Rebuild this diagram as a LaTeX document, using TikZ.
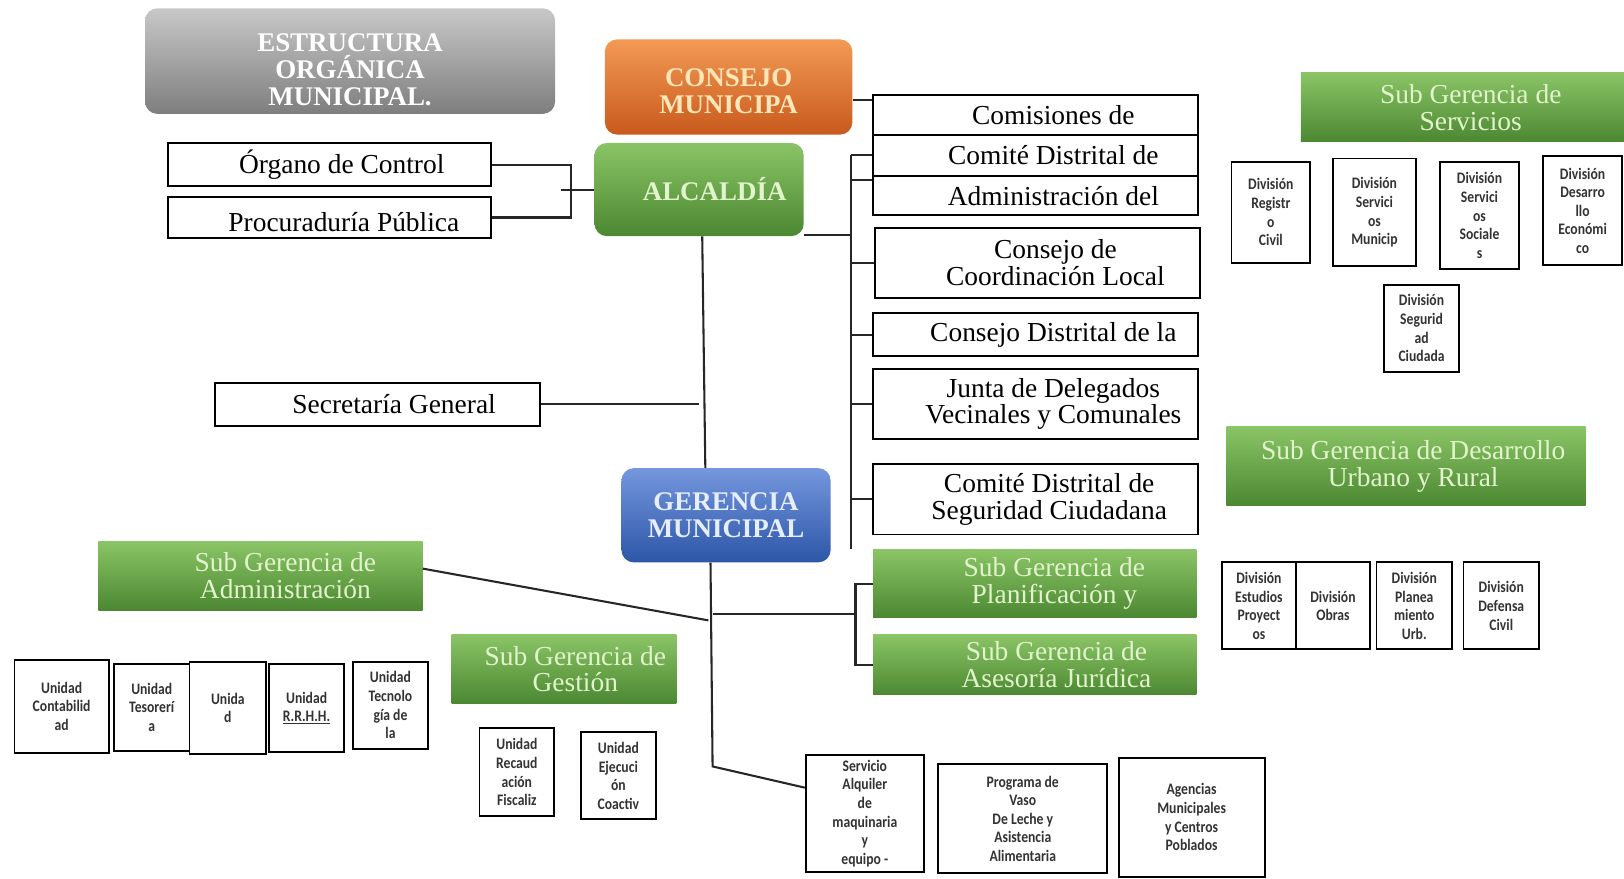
\documentclass[tikz,border=0pt]{standalone}
\usepackage{fontspec}
\setmainfont{Liberation Serif}
\newfontfamily\narrowfont[FakeStretch=0.85]{Carlito}
\usepackage{tikz}

\definecolor{grisA}{HTML}{C8C8C8}
\definecolor{grisB}{HTML}{7E7E7E}
\definecolor{naranjaA}{HTML}{F39A55}
\definecolor{naranjaB}{HTML}{C85A1C}
\definecolor{naranjaT}{HTML}{FFE6B8}
\definecolor{verdeA}{HTML}{8AC466}
\definecolor{verdeB}{HTML}{4C8832}
\definecolor{verdeT}{HTML}{E2F4CC}
\definecolor{azulA}{HTML}{7497DD}
\definecolor{azulB}{HTML}{2D56A8}
\definecolor{azulT}{HTML}{E6EEFF}

\newcommand\sh[1]{\hspace*{#1pt}}

\begin{document}
\begin{tikzpicture}[x=1pt,y=-1pt,
  conn/.style={draw=black!85,line width=2pt},
  wbox/.style={draw,line width=1.8pt,fill=white,align=center,inner sep=1pt,
    font=\fontsize{26.5}{26}\selectfont},
  ubox/.style={draw,line width=1.8pt,fill=white,align=center,inner sep=1pt,text=black!80,
    font=\narrowfont\bfseries\fontsize{15.5}{18}\selectfont},
  gbox/.style={top color=verdeA,bottom color=verdeB,text=verdeT,align=center,inner sep=1pt,
    font=\fontsize{26.5}{26}\selectfont},
  rbox/.style={rounded corners=12pt,align=center,inner sep=1pt,
    font=\bfseries\fontsize{26}{26}\selectfont}]
\useasboundingbox (0,0) rectangle (1568,848);

\node[rbox,top color=grisA,bottom color=grisB,text=white,minimum width=396,minimum height=102]
  (titulo) at (338,59) {\rule{0pt}{34pt}ESTRUCTURA\\ORGÁNICA\\MUNICIPAL.};
\node[rbox,top color=naranjaA,bottom color=naranjaB,text=naranjaT,minimum width=239,minimum height=92]
  (consejo) at (703.5,84) {\rule{0pt}{26pt}CONSEJO\\MUNICIPA};
\node[rbox,top color=verdeA,bottom color=verdeB,text=verdeT,minimum width=202,minimum height=90]
  (alcaldia) at (675,183) {\sh{30}ALCALDÍA};
\node[rbox,top color=azulA,bottom color=azulB,text=azulT,minimum width=202,minimum height=91]
  (gerencia) at (701,497.5) {GERENCIA\\MUNICIPAL};

\node[wbox,minimum width=312,minimum height=42] (organo) at (318,159) {\sh{24}Órgano de Control};
\node[wbox,minimum width=312,minimum height=40] (procu) at (318,210) {\rule{0pt}{28pt}\sh{28}Procuraduría Pública};
\node[wbox,minimum width=313,minimum height=41] (secre) at (364.5,390.5) {\sh{32}Secretaría General};

\node[wbox,minimum width=314,minimum height=38] (comis) at (1000,111) {\sh{34}Comisiones de};
\node[wbox,minimum width=314,minimum height=40] (comite) at (1000,150) {\sh{34}Comité Distrital de};
\node[wbox,minimum width=314,minimum height=38] (admin) at (1000,189) {\sh{34}Administración del};
\node[wbox,minimum width=314,minimum height=68] (coord) at (1002,254) {\sh{34}Consejo de\\\sh{34}Coordinación Local};
\node[wbox,minimum width=314,minimum height=42] (cdistr) at (1000,323) {\sh{34}Consejo Distrital de la};
\node[wbox,minimum width=314,minimum height=68] (junta) at (1000,390) {\sh{34}Junta de Delegados\\\sh{34}Vecinales y Comunales};
\node[wbox,minimum width=314,minimum height=68] (segur) at (1000,482) {\sh{26}Comité Distrital de\\\sh{26}Seguridad Ciudadana};

\node[gbox,minimum width=312,minimum height=65] (planif) at (999,563.5) {\sh{38}Sub Gerencia de\\\sh{38}Planificación y};
\node[gbox,minimum width=312,minimum height=58] (asesor) at (999,642) {\sh{42}Sub Gerencia de\\\sh{42}Asesoría Jurídica};
\node[gbox,minimum width=313,minimum height=66] (subadm) at (251.5,556) {\sh{48}Sub Gerencia de\\\sh{48}Administración};
\node[gbox,minimum width=217,minimum height=66] (subgest) at (544.5,646) {\sh{22}Sub Gerencia de\\\sh{22}Gestión};
\node[gbox,minimum width=312,minimum height=67] (subserv) at (1412,103.5) {\sh{16}Sub Gerencia de\\\sh{16}Servicios};
\node[gbox,minimum width=347,minimum height=76] (subdes) at (1357.5,450) {\sh{14}Sub Gerencia de Desarrollo\\\sh{14}Urbano y Rural};

\node[ubox,minimum width=91,minimum height=90] (contab) at (59.5,682) {Unidad\\Contabilid\\ad};
\node[ubox,minimum width=73,minimum height=84] (tesor) at (146.5,683) {Unidad\\Tesorerí\\a};
\node[ubox,minimum width=74,minimum height=89] (unida) at (220,683.5) {Unida\\d};
\node[ubox,minimum width=72,minimum height=85] (rrhh) at (296,683.5) {Unidad\\\underline{R.R.H.H.}};
\node[ubox,minimum width=72,minimum height=84] (tecno) at (377,681) {Unidad\\Tecnolo\\gía de\\la};
\node[ubox,minimum width=72,minimum height=85] (recaud) at (499,745.5) {Unidad\\Recaud\\ación\\Fiscaliz};
\node[ubox,minimum width=72,minimum height=84] (coact) at (597,749) {Unidad\\Ejecuci\\ón\\Coactiv};

\node[ubox,minimum width=114,minimum height=113] (servicio) at (835,785.5)
  {Servicio\\Alquiler\\de\\maquinaria\\y\\equipo -};
\node[ubox,minimum width=163,minimum height=105] (programa) at (987.5,790.5)
  {Programa de\\Vaso\\De Leche y\\Asistencia\\Alimentaria};
\node[ubox,minimum width=141,minimum height=115] (agencias) at (1150.5,789)
  {Agencias\\Municipales\\y Centros\\Poblados};

\node[ubox,minimum width=76,minimum height=98] (registro) at (1227,205) {División\\Registr\\o\\Civil};
\node[ubox,minimum width=80,minimum height=104] (servmun) at (1327,205) {División\\Servici\\os\\Municip};
\node[ubox,minimum width=77,minimum height=104] (servsoc) at (1428.5,208) {División\\Servici\\os\\Sociale\\s};
\node[ubox,minimum width=76,minimum height=105] (deseco) at (1528,203.5) {División\\Desarro\\llo\\Económi\\co};
\node[ubox,minimum width=73,minimum height=84] (segciu) at (1372.5,317) {División\\Segurid\\ad\\Ciudada};

\node[ubox,minimum width=71,minimum height=84] (estud) at (1215.5,585) {División\\Estudios\\Proyect\\os};
\node[ubox,minimum width=72,minimum height=84] (obras) at (1287,585) {División\\Obras};
\node[ubox,minimum width=73,minimum height=84] (planea) at (1365.5,585) {División\\Planea\\miento\\Urb.};
\node[ubox,minimum width=73,minimum height=84] (defensa) at (1449.5,585) {División\\Defensa\\Civil};

\coordinate (lbr) at (551,183);
\coordinate (busTop) at (822,150);
\coordinate (busBot) at (822,530);
\coordinate (rbr) at (826,593);
\coordinate (gbot) at (688,740);
\coordinate (admEnd) at (684,599);

\draw[conn] (organo.east) -- (organo.east -| lbr) -- (procu.east -| lbr) -- (procu.east);
\draw[conn] ([xshift=-9pt]lbr) -- (lbr -| alcaldia.west);
\draw[conn] ([yshift=-13pt]consejo.east) -- ([yshift=-13pt]consejo.east -| comis.west);
\draw[conn] (busTop) -- (busBot);
\draw[conn] ([yshift=1pt]alcaldia.south east) -- ([yshift=1pt]alcaldia.south east -| busTop);
\draw[conn] (comite.west -| busTop) -- (comite.west);
\draw[conn] ([yshift=15pt]admin.west -| busTop) -- ([yshift=15pt]admin.west);
\draw[conn] (coord.west -| busTop) -- (coord.west);
\draw[conn] (cdistr.west -| busTop) -- (cdistr.west);
\draw[conn] (junta.west -| busTop) -- (junta.west);
\draw[conn] (segur.west -| busTop) -- (segur.west);
\draw[conn] ([xshift=3pt]alcaldia.south) -- ([xshift=-20pt]gerencia.north);
\draw[conn] (secre.east) -- (secre.east -| alcaldia.south);
\draw[conn] ([xshift=-15pt]gerencia.south) -- (gbot) -- ([yshift=25pt]servicio.west);
\draw[conn] (rbr -| gbot) -- (rbr);
\draw[conn] (planif.west) -| (rbr) |- (asesor.west);
\draw[conn] ([yshift=7pt]subadm.east) -- (admEnd);
\end{tikzpicture}
\end{document}
